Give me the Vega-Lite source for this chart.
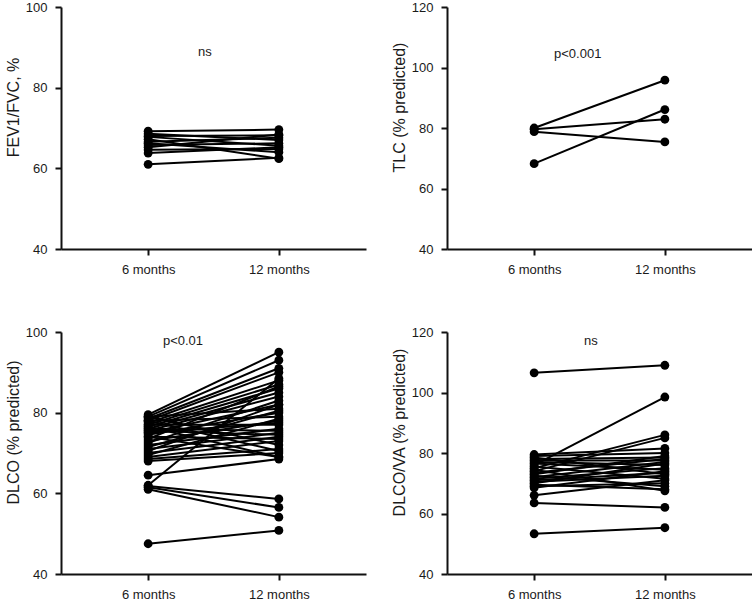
{
"$schema": "https://vega.github.io/schema/vega-lite/v6.json",
"padding": {"left": 5, "top": 1, "right": 0, "bottom": 0},
"config": {
  "view": {"stroke": null},
  "font": "Liberation Sans",
  "axis": {"grid": false, "domainColor": "#111", "domainWidth": 2, "tickColor": "#111", "tickWidth": 2, "tickSize": 6, "labelFont": "Liberation Sans", "labelFontSize": 13, "labelColor": "#1a1a1a", "titleFont": "Liberation Sans", "titleFontSize": 16, "titleFontWeight": "normal", "titleColor": "#1a1a1a"},
  "axisY": {"labelPadding": 8, "titlePadding": 4, "titleY": 100},
  "axisX": {"labelPadding": 8}
},
"datasets": {
  "fev": [
    {"id":1,"month":6,"value":69.2},{"id":1,"month":12,"value":69.6},
    {"id":2,"month":6,"value":68.6},{"id":2,"month":12,"value":67.0},
    {"id":3,"month":6,"value":68.0},{"id":3,"month":12,"value":68.2},
    {"id":4,"month":6,"value":67.2},{"id":4,"month":12,"value":62.4},
    {"id":5,"month":6,"value":66.6},{"id":5,"month":12,"value":67.6},
    {"id":6,"month":6,"value":65.8},{"id":6,"month":12,"value":66.2},
    {"id":7,"month":6,"value":65.2},{"id":7,"month":12,"value":68.4},
    {"id":8,"month":6,"value":64.6},{"id":8,"month":12,"value":64.8},
    {"id":9,"month":6,"value":63.8},{"id":9,"month":12,"value":65.2},
    {"id":10,"month":6,"value":61.0},{"id":10,"month":12,"value":62.6},
    {"id":11,"month":6,"value":67.8},{"id":11,"month":12,"value":65.6},
    {"id":12,"month":6,"value":66.2},{"id":12,"month":12,"value":64.0}
  ],
  "tlc": [
    {"id":1,"month":6,"value":80.0},{"id":1,"month":12,"value":95.8},
    {"id":2,"month":6,"value":79.6},{"id":2,"month":12,"value":82.9},
    {"id":3,"month":6,"value":78.8},{"id":3,"month":12,"value":75.4},
    {"id":4,"month":6,"value":68.2},{"id":4,"month":12,"value":86.1}
  ],
  "dlco": [
    {"id":1,"month":6,"value":79.5},{"id":1,"month":12,"value":95},
    {"id":2,"month":6,"value":79},{"id":2,"month":12,"value":93},
    {"id":3,"month":6,"value":78.5},{"id":3,"month":12,"value":91},
    {"id":4,"month":6,"value":78},{"id":4,"month":12,"value":90},
    {"id":5,"month":6,"value":77.5},{"id":5,"month":12,"value":88},
    {"id":6,"month":6,"value":77},{"id":6,"month":12,"value":87},
    {"id":7,"month":6,"value":76.5},{"id":7,"month":12,"value":86},
    {"id":8,"month":6,"value":76},{"id":8,"month":12,"value":85},
    {"id":9,"month":6,"value":75.5},{"id":9,"month":12,"value":84},
    {"id":10,"month":6,"value":75},{"id":10,"month":12,"value":82},
    {"id":11,"month":6,"value":79},{"id":11,"month":12,"value":81},
    {"id":12,"month":6,"value":74.5},{"id":12,"month":12,"value":80},
    {"id":13,"month":6,"value":78},{"id":13,"month":12,"value":79},
    {"id":14,"month":6,"value":73},{"id":14,"month":12,"value":78},
    {"id":15,"month":6,"value":77},{"id":15,"month":12,"value":77},
    {"id":16,"month":6,"value":72},{"id":16,"month":12,"value":76},
    {"id":17,"month":6,"value":76},{"id":17,"month":12,"value":75.5},
    {"id":18,"month":6,"value":71},{"id":18,"month":12,"value":75},
    {"id":19,"month":6,"value":75.5},{"id":19,"month":12,"value":74.5},
    {"id":20,"month":6,"value":70},{"id":20,"month":12,"value":74},
    {"id":21,"month":6,"value":74},{"id":21,"month":12,"value":73.5},
    {"id":22,"month":6,"value":69},{"id":22,"month":12,"value":73},
    {"id":23,"month":6,"value":79},{"id":23,"month":12,"value":72},
    {"id":24,"month":6,"value":68.5},{"id":24,"month":12,"value":71},
    {"id":25,"month":6,"value":78},{"id":25,"month":12,"value":70.5},
    {"id":26,"month":6,"value":68},{"id":26,"month":12,"value":70},
    {"id":27,"month":6,"value":74},{"id":27,"month":12,"value":69},
    {"id":28,"month":6,"value":76.5},{"id":28,"month":12,"value":69},
    {"id":29,"month":6,"value":64.5},{"id":29,"month":12,"value":68.5},
    {"id":30,"month":6,"value":62},{"id":30,"month":12,"value":88.5},
    {"id":31,"month":6,"value":61.8},{"id":31,"month":12,"value":58.6},
    {"id":32,"month":6,"value":61.5},{"id":32,"month":12,"value":56.5},
    {"id":33,"month":6,"value":61},{"id":33,"month":12,"value":54.1},
    {"id":34,"month":6,"value":47.5},{"id":34,"month":12,"value":50.8},
    {"id":35,"month":6,"value":73.5},{"id":35,"month":12,"value":86.5},
    {"id":36,"month":6,"value":72.5},{"id":36,"month":12,"value":83},
    {"id":37,"month":6,"value":71.5},{"id":37,"month":12,"value":80.5},
    {"id":38,"month":6,"value":75},{"id":38,"month":12,"value":77.5},
    {"id":39,"month":6,"value":70.5},{"id":39,"month":12,"value":82},
    {"id":40,"month":6,"value":69.5},{"id":40,"month":12,"value":78.5}
  ],
  "dlcova": [
    {"id":1,"month":6,"value":106.5},{"id":1,"month":12,"value":109},
    {"id":2,"month":6,"value":76},{"id":2,"month":12,"value":98.5},
    {"id":3,"month":6,"value":75},{"id":3,"month":12,"value":86},
    {"id":4,"month":6,"value":74},{"id":4,"month":12,"value":85},
    {"id":5,"month":6,"value":79.5},{"id":5,"month":12,"value":81.5},
    {"id":6,"month":6,"value":79},{"id":6,"month":12,"value":80},
    {"id":7,"month":6,"value":78},{"id":7,"month":12,"value":78.5},
    {"id":8,"month":6,"value":77.5},{"id":8,"month":12,"value":77.5},
    {"id":9,"month":6,"value":77},{"id":9,"month":12,"value":76},
    {"id":10,"month":6,"value":76.5},{"id":10,"month":12,"value":74.5},
    {"id":11,"month":6,"value":78.5},{"id":11,"month":12,"value":73},
    {"id":12,"month":6,"value":73},{"id":12,"month":12,"value":79},
    {"id":13,"month":6,"value":72},{"id":13,"month":12,"value":77},
    {"id":14,"month":6,"value":71.5},{"id":14,"month":12,"value":75},
    {"id":15,"month":6,"value":70.5},{"id":15,"month":12,"value":72.5},
    {"id":16,"month":6,"value":70},{"id":16,"month":12,"value":76.5},
    {"id":17,"month":6,"value":69.5},{"id":17,"month":12,"value":68},
    {"id":18,"month":6,"value":69},{"id":18,"month":12,"value":70},
    {"id":19,"month":6,"value":72.5},{"id":19,"month":12,"value":69},
    {"id":20,"month":6,"value":68.5},{"id":20,"month":12,"value":74},
    {"id":21,"month":6,"value":75.5},{"id":21,"month":12,"value":71.5},
    {"id":22,"month":6,"value":74.5},{"id":22,"month":12,"value":67.5},
    {"id":23,"month":6,"value":66},{"id":23,"month":12,"value":71},
    {"id":24,"month":6,"value":63.5},{"id":24,"month":12,"value":62},
    {"id":25,"month":6,"value":53.3},{"id":25,"month":12,"value":55.3},
    {"id":26,"month":6,"value":73.5},{"id":26,"month":12,"value":78},
    {"id":27,"month":6,"value":71},{"id":27,"month":12,"value":73.5}
  ]
},
"columns": 2,
"spacing": {"row": 50, "column": 25},
"concat": [
  {
    "width": 305, "height": 242,
    "data": {"name": "fev"},
    "encoding": {
      "x": {"field": "month", "type": "quantitative", "scale": {"domain": [2, 16], "nice": false, "zero": false}, "axis": {"values": [6, 12], "labelExpr": "datum.value + ' months'", "title": null}},
      "y": {"field": "value", "type": "quantitative", "scale": {"domain": [40, 100], "nice": false, "zero": false}, "axis": {"values": [40, 60, 80, 100], "title": "FEV1/FVC, %"}}
    },
    "layer": [
      {"mark": {"type": "line", "color": "#000", "strokeWidth": 2}, "encoding": {"detail": {"field": "id"}}},
      {"mark": {"type": "circle", "color": "#000", "size": 78, "opacity": 1}},
      {"data": {"values": [{"label": "ns", "month": 8.6, "value": 88.8}]}, "mark": {"type": "text", "fontSize": 13, "color": "#1a1a1a"}, "encoding": {"text": {"field": "label"}}}
    ]
  },
  {
    "width": 305, "height": 242,
    "data": {"name": "tlc"},
    "encoding": {
      "x": {"field": "month", "type": "quantitative", "scale": {"domain": [2, 16], "nice": false, "zero": false}, "axis": {"values": [6, 12], "labelExpr": "datum.value + ' months'", "title": null}},
      "y": {"field": "value", "type": "quantitative", "scale": {"domain": [40, 120], "nice": false, "zero": false}, "axis": {"values": [40, 60, 80, 100, 120], "title": "TLC (% predicted)"}}
    },
    "layer": [
      {"mark": {"type": "line", "color": "#000", "strokeWidth": 2}, "encoding": {"detail": {"field": "id"}}},
      {"mark": {"type": "circle", "color": "#000", "size": 78, "opacity": 1}},
      {"data": {"values": [{"label": "p<0.001", "month": 8.0, "value": 104.6}]}, "mark": {"type": "text", "fontSize": 13, "color": "#1a1a1a"}, "encoding": {"text": {"field": "label"}}}
    ]
  },
  {
    "width": 305, "height": 242,
    "data": {"name": "dlco"},
    "encoding": {
      "x": {"field": "month", "type": "quantitative", "scale": {"domain": [2, 16], "nice": false, "zero": false}, "axis": {"values": [6, 12], "labelExpr": "datum.value + ' months'", "title": null}},
      "y": {"field": "value", "type": "quantitative", "scale": {"domain": [40, 100], "nice": false, "zero": false}, "axis": {"values": [40, 60, 80, 100], "title": "DLCO (% predicted)"}}
    },
    "layer": [
      {"mark": {"type": "line", "color": "#000", "strokeWidth": 2}, "encoding": {"detail": {"field": "id"}}},
      {"mark": {"type": "circle", "color": "#000", "size": 78, "opacity": 1}},
      {"data": {"values": [{"label": "p<0.01", "month": 7.6, "value": 97.7}]}, "mark": {"type": "text", "fontSize": 13, "color": "#1a1a1a"}, "encoding": {"text": {"field": "label"}}}
    ]
  },
  {
    "width": 305, "height": 242,
    "data": {"name": "dlcova"},
    "encoding": {
      "x": {"field": "month", "type": "quantitative", "scale": {"domain": [2, 16], "nice": false, "zero": false}, "axis": {"values": [6, 12], "labelExpr": "datum.value + ' months'", "title": null}},
      "y": {"field": "value", "type": "quantitative", "scale": {"domain": [40, 120], "nice": false, "zero": false}, "axis": {"values": [40, 60, 80, 100, 120], "title": "DLCO/VA (% predicted)"}}
    },
    "layer": [
      {"mark": {"type": "line", "color": "#000", "strokeWidth": 2}, "encoding": {"detail": {"field": "id"}}},
      {"mark": {"type": "circle", "color": "#000", "size": 78, "opacity": 1}},
      {"data": {"values": [{"label": "ns", "month": 8.6, "value": 117.1}]}, "mark": {"type": "text", "fontSize": 13, "color": "#1a1a1a"}, "encoding": {"text": {"field": "label"}}}
    ]
  }
]
}
